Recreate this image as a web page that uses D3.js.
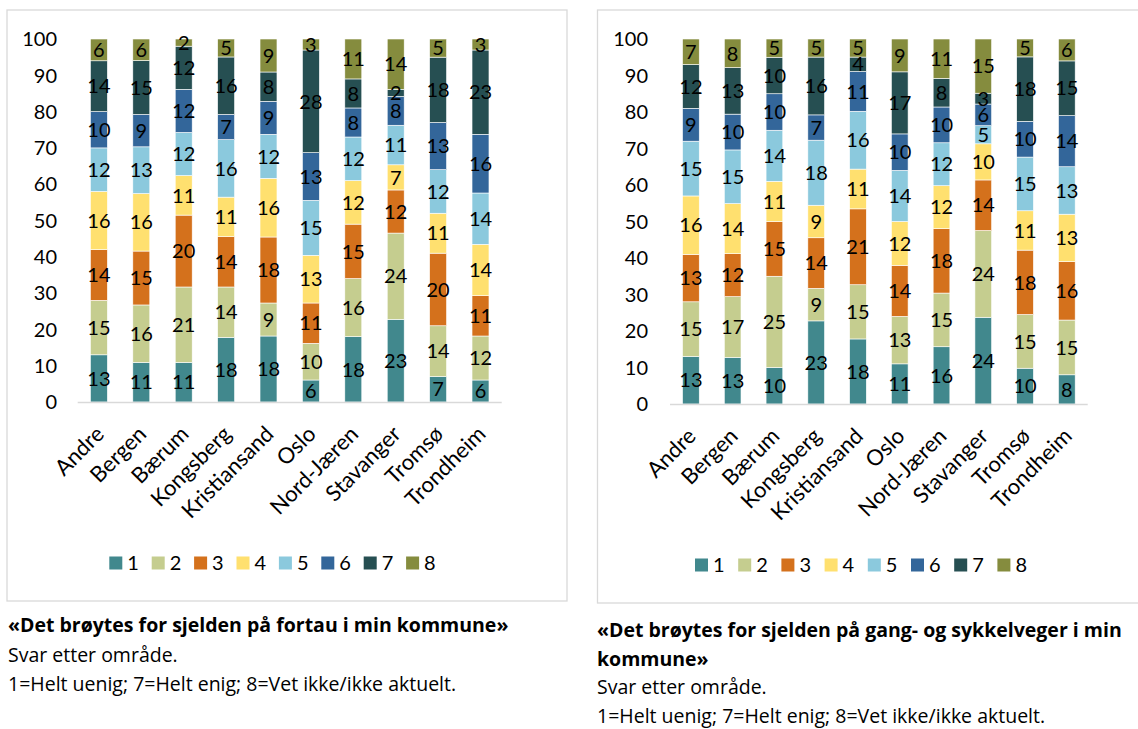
<!DOCTYPE html>
<html>
<head>
<meta charset="utf-8">
<script src="https://cdn.jsdelivr.net/npm/d3@7"></script>
<style>
  body { margin: 0; background: #fff; }
  svg { display: block; font-family: Lato, "Noto Sans", sans-serif; }
  .cap { font-family: "Open Sans", Lato, sans-serif; }
</style>
</head>
<body>
<svg id="chart" width="1138" height="729"></svg>
<script>
// ---- Data ----
const categories = ["Andre", "Bergen", "Bærum", "Kongsberg", "Kristiansand", "Oslo", "Nord-Jæren", "Stavanger", "Tromsø", "Trondheim"];
const seriesKeys = ["1", "2", "3", "4", "5", "6", "7", "8"];
const seriesColors = ["#41888D", "#C5CD8F", "#D4711C", "#FFE06F", "#8BC9DD", "#33669A", "#264F52", "#858C3E"];
const yTicks = [0, 10, 20, 30, 40, 50, 60, 70, 80, 90, 100];

// rows per category, columns per answer 1..8 (percent)
const fortauValues = [
  [13, 15, 14, 16, 12, 10, 14, 6],
  [11, 16, 15, 16, 13, 9, 15, 6],
  [11, 21, 20, 11, 12, 12, 12, 2],
  [18, 14, 14, 11, 16, 7, 16, 5],
  [18, 9, 18, 16, 12, 9, 8, 9],
  [6, 10, 11, 13, 15, 13, 28, 3],
  [18, 16, 15, 12, 12, 8, 8, 11],
  [23, 24, 12, 7, 11, 8, 2, 14],
  [7, 14, 20, 11, 12, 13, 18, 5],
  [6, 12, 11, 14, 14, 16, 23, 3]
];
const gangValues = [
  [13, 15, 13, 16, 15, 9, 12, 7],
  [13, 17, 12, 14, 15, 10, 13, 8],
  [10, 25, 15, 11, 14, 10, 10, 5],
  [23, 9, 14, 9, 18, 7, 16, 5],
  [18, 15, 21, 11, 16, 11, 4, 5],
  [11, 13, 14, 12, 14, 10, 17, 9],
  [16, 15, 18, 12, 12, 10, 8, 11],
  [24, 24, 14, 10, 5, 6, 3, 15],
  [10, 15, 18, 11, 15, 10, 18, 5],
  [8, 15, 16, 13, 13, 14, 15, 6]
];

const fortauCaption = ["«Det brøytes for sjelden på fortau i min kommune»"];
const gangCaption = ["«Det brøytes for sjelden på gang- og sykkelveger i min", "kommune»"];
const captionSub = ["Svar etter område.", "1=Helt uenig; 7=Helt enig; 8=Vet ikke/ikke aktuelt."];

const svg = d3.select("#chart");
const color = d3.scaleOrdinal().domain(seriesKeys).range(seriesColors);
const FS = 20;

function drawChart(cfg) {
  const g = svg.append("g");
  // frame
  g.append("rect")
    .attr("x", cfg.frame[0]).attr("y", cfg.frame[1])
    .attr("width", cfg.frame[2]).attr("height", cfg.frame[3])
    .attr("fill", "none").attr("stroke", "#D9D9D9").attr("stroke-width", 1.3);

  const rows = categories.map((c, i) => {
    const o = { cat: c };
    seriesKeys.forEach((k, j) => o[k] = cfg.values[i][j]);
    return o;
  });
  const stacked = d3.stack().keys(seriesKeys).offset(d3.stackOffsetExpand)(rows);

  const x = d3.scaleBand().domain(categories).range(cfg.xRange).paddingInner(0.6).paddingOuter(0.3);
  const y = d3.scaleLinear().domain([0, 1]).range(cfg.yRange);

  // y tick labels
  g.append("g").selectAll("text").data(yTicks).join("text")
    .attr("x", cfg.yLabelX).attr("y", d => y(d / 100)).attr("dy", "0.36em")
    .attr("text-anchor", "end").attr("font-size", FS).attr("fill", "#000")
    .text(d => d);

  // bars
  const layers = g.append("g").selectAll("g").data(stacked).join("g")
    .attr("fill", d => color(d.key));
  layers.selectAll("rect").data(d => d).join("rect")
    .attr("x", d => x(d.data.cat))
    .attr("width", x.bandwidth())
    .attr("y", d => y(d[1]))
    .attr("height", d => y(d[0]) - y(d[1]))
    .attr("stroke", "#fff").attr("stroke-width", 0.6);

  // segment labels
  stacked.forEach(layer => {
    g.append("g").selectAll("text").data(layer).join("text")
      .attr("x", d => x(d.data.cat) + x.bandwidth() / 2)
      .attr("y", d => y((d[0] + d[1]) / 2)).attr("dy", "0.36em")
      .attr("text-anchor", "middle").attr("font-size", FS).attr("fill", "#000")
      .text(d => d.data[layer.key]);
  });

  // baseline
  g.append("line")
    .attr("x1", cfg.xRange[0]).attr("x2", cfg.xRange[1])
    .attr("y1", y(0) + 0.5).attr("y2", y(0) + 0.5)
    .attr("stroke", "#D9D9D9").attr("stroke-width", 1.5);

  // x labels
  g.append("g").selectAll("text").data(categories).join("text")
    .attr("transform", d => `translate(${x(d) + x.bandwidth() / 2 + 1},${y(0) + 28}) rotate(-45)`)
    .attr("text-anchor", "end").attr("dy", "0.35em")
    .attr("font-size", 22).attr("fill", "#000")
    .text(d => d);

  // legend
  const lg = g.append("g").selectAll("g").data(seriesKeys).join("g")
    .attr("transform", (d, i) => `translate(${cfg.legendX + i * cfg.legendStep},${cfg.legendY})`);
  lg.append("rect").attr("x", 0).attr("y", -6.5).attr("width", 13).attr("height", 13)
    .attr("fill", d => color(d));
  lg.append("text").attr("x", 18).attr("y", 0).attr("dy", "0.36em")
    .attr("font-size", FS).attr("fill", "#000").text(d => d);

  // captions
  const cap = g.append("g").attr("class", "cap");
  let cy = cfg.captionY;
  cfg.caption.forEach(line => {
    cap.append("text").attr("x", cfg.captionX).attr("y", cy)
      .attr("font-size", 19.5).attr("font-weight", "bold").attr("fill", "#000").text(line);
    cy += cfg.captionStep;
  });
  captionSub.forEach(line => {
    cap.append("text").attr("x", cfg.captionX).attr("y", cy)
      .attr("font-size", 19.5).attr("fill", "#000").text(line);
    cy += cfg.captionStep;
  });
}

drawChart({
  values: fortauValues,
  frame: [7, 10, 560, 591],
  xRange: [77.7, 501.7],
  yRange: [402, 39],
  yLabelX: 57,
  legendX: 109.3, legendStep: 42.4, legendY: 563,
  caption: fortauCaption,
  captionX: 8, captionY: 632, captionStep: 29.5
});
drawChart({
  values: gangValues,
  frame: [597.5, 10, 560, 593],
  xRange: [670, 1087.7],
  yRange: [404, 39],
  yLabelX: 648,
  legendX: 695, legendStep: 43.2, legendY: 565,
  caption: gangCaption,
  captionX: 597, captionY: 637, captionStep: 28.5
});
</script>
</body>
</html>
